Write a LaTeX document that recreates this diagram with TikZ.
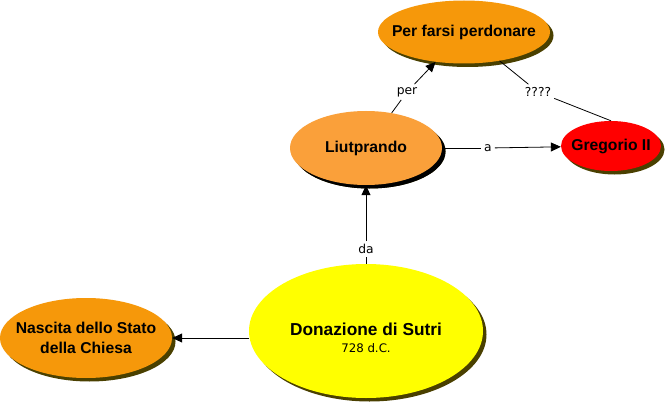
\documentclass[tikz,border=0pt]{standalone}
\usepackage{fontspec}
\setmainfont{Liberation Sans}
\newfontfamily\lblfont{DejaVu Sans}
\usetikzlibrary{shapes.geometric,arrows.meta,shadows}
\definecolor{orangeA}{RGB}{246,152,10}
\definecolor{orangeB}{RGB}{250,160,58}
\definecolor{redC}{RGB}{255,0,0}
\definecolor{yellowC}{RGB}{255,255,0}
\definecolor{shadowOl}{RGB}{74,64,0}
\begin{document}
\begin{tikzpicture}[x=1pt,y=-1pt,
 concept/.style={ellipse, inner xsep=-150pt, inner ysep=-80pt, align=center,
   font=\bfseries\fontsize{15.7}{20}\selectfont,
   drop shadow={shadow xshift=3.5pt,shadow yshift=-3.5pt,opacity=1,fill=shadowOl}},
 blackshadow/.style={drop shadow={shadow xshift=3.5pt,shadow yshift=-3.5pt,opacity=1,fill=black}},
 lbl/.style={inner sep=3pt, font=\lblfont\fontsize{12.3}{14}\selectfont},
 link/.style={line width=0.8pt},
 arr/.style={link,-{Triangle[length=10pt,width=9pt]}}]
\fill[white] (0,0) rectangle (670,412);
\useasboundingbox (0,0) rectangle (670,412);
\node[concept, fill=orangeA, minimum width=172, minimum height=63] (per) at (464,32) {Per farsi perdonare};
\node[concept, blackshadow, fill=orangeB, minimum width=152, minimum height=74] (liut) at (366,148) {Liutprando};
\node[concept, fill=redC, minimum width=100, minimum height=50] (greg) at (611,146) {Gregorio II};
\node[concept, fill=yellowC, minimum width=234, minimum height=134] (don) at (366,331)
  {\rule{0pt}{27pt}{\fontsize{17.3}{21}\selectfont Donazione di Sutri}\\[-3pt]{\mdseries\lblfont\fontsize{11.8}{14}\selectfont 728 d.C.}};
\node[concept, fill=orangeA, minimum width=172, minimum height=80] (nas) at (86,338) {Nascita dello Stato\\della Chiesa};
\node[lbl] (lper) at (407,92) {per};
\node[lbl] (lq) at (538,92) {????};
\node[lbl] (la) at (488,148) {a};
\node[lbl] (lda) at (366,249) {da};
\draw[link] (liut) -- (lper);
\draw[arr] (lper) -- (per);
\draw[link] (per) -- (lq);
\draw[link] (lq) -- (greg.north);
\draw[link] (liut) -- (la);
\draw[arr] (la) -- (greg);
\draw[link] (don) -- (lda);
\draw[arr] (lda) -- (liut);
\draw[arr] (don.west |- nas.east) -- (nas.east);
\end{tikzpicture}
\end{document}
